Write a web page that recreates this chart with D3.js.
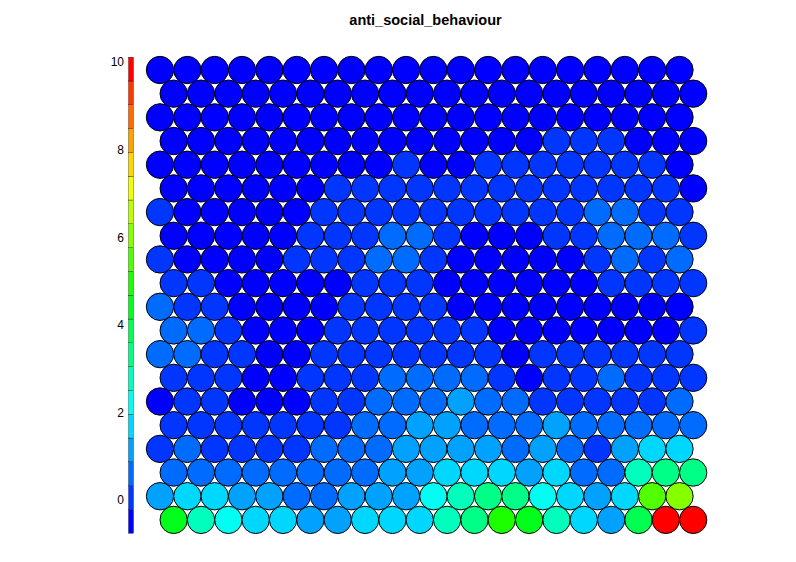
<!DOCTYPE html>
<html>
<head>
<meta charset="utf-8">
<script src="https://cdn.jsdelivr.net/npm/d3@7"></script>
<style>
  html, body { margin: 0; padding: 0; background: #fff; }
  svg { display: block; }
</style>
</head>
<body>
<svg id="chart" width="796" height="562"></svg>
<script>
// ---- data (SOM node property values, rows listed top to bottom, 20 x 20 hex grid) ----
const title = "anti_social_behaviour";
const legendTicks = [0, 2, 4, 6, 8, 10];
const nColors = 20;

const row00 = [-0.76,-0.5,-0.5,-0.5,-0.5,-0.5,-0.5,-0.5,-0.5,-0.5,-0.5,-0.5,-0.5,-0.5,-0.5,-0.5,-0.5,-0.5,-0.5,-0.5];
const row01 = [-0.5,-0.5,-0.5,-0.5,-0.5,-0.5,-0.5,-0.5,-0.5,-0.5,-0.5,-0.5,-0.5,-0.5,-0.5,-0.5,-0.5,-0.5,-0.5,-0.5];
const row02 = [-0.5,-0.5,-0.5,-0.5,-0.5,-0.5,-0.5,-0.5,-0.5,-0.5,-0.5,-0.5,-0.5,-0.5,-0.5,-0.5,-0.5,-0.5,-0.5,-0.5];
const row03 = [-0.5,-0.5,-0.5,-0.5,-0.5,-0.5,-0.5,-0.5,-0.5,-0.5,-0.5,-0.5,-0.5,-0.5,0.05,0.05,0.05,-0.5,-0.5,-0.5];
const row04 = [-0.5,-0.5,-0.5,-0.5,-0.5,-0.5,-0.5,-0.5,-0.5,0.05,-0.5,-0.5,0.05,0.05,0.05,0.05,0.05,0.05,0.05,-0.5];
const row05 = [-0.5,-0.5,-0.5,-0.5,-0.5,-0.5,0.05,0.05,0.05,0.05,0.05,0.05,0.05,0.05,0.05,0.05,0.05,0.05,0.05,-0.5];
const row06 = [0.05,-0.5,-0.5,-0.5,-0.5,-0.5,0.05,0.05,0.05,0.05,0.05,0.05,0.05,0.05,0.05,0.05,0.6,0.6,0.05,0.05];
const row07 = [-0.5,-0.5,-0.5,-0.5,-0.5,0.05,0.05,0.05,0.6,0.6,0.05,-0.5,-0.5,-0.5,0.05,0.05,0.6,0.6,0.6,0.05];
const row08 = [0.05,-0.5,-0.5,-0.5,-0.5,0.05,0.05,0.05,0.6,0.6,0.05,-0.5,-0.5,-0.5,-0.5,-0.5,0.05,0.6,0.05,0.6];
const row09 = [0.05,0.05,-0.5,-0.5,-0.5,-0.5,-0.5,0.05,0.05,0.05,-0.5,-0.5,-0.5,-0.5,-0.5,-0.5,0.05,0.05,0.05,0.05];
const row10 = [0.6,0.05,0.05,-0.5,-0.5,-0.5,-0.5,0.05,0.05,0.05,0.05,-0.5,-0.5,-0.5,-0.5,-0.5,-0.5,-0.5,-0.5,-0.5];
const row11 = [0.6,0.6,0.05,-0.5,-0.5,-0.5,0.05,0.05,0.05,0.05,0.05,0.05,-0.5,-0.5,-0.5,-0.5,-0.5,-0.5,-0.5,0.05];
const row12 = [0.6,0.6,0.05,0.05,-0.5,-0.5,0.05,0.05,0.05,0.05,0.05,0.05,0.05,-0.5,0.05,0.05,0.05,0.05,0.05,0.05];
const row13 = [0.05,0.05,0.05,-0.5,-0.5,0.05,0.05,0.05,0.6,0.6,0.6,0.6,0.05,-0.5,0.05,0.05,0.6,0.05,0.05,0.05];
const row14 = [-0.5,0.05,0.05,-0.5,-0.5,-0.5,0.05,0.05,0.6,0.6,0.6,1.15,0.6,0.6,0.05,0.05,0.05,0.05,0.05,0.6];
const row15 = [0.05,0.05,0.05,0.05,0.05,0.05,0.05,0.6,0.6,1.15,1.15,0.6,0.6,0.6,1.15,0.6,0.6,0.6,0.6,0.6];
const row16 = [0.05,0.6,0.05,0.05,0.05,0.05,0.6,0.6,0.6,1.15,1.15,1.15,1.15,0.6,1.15,0.6,0.05,1.15,1.7,1.7];
const row17 = [0.6,0.6,0.6,0.6,0.6,0.6,0.6,0.6,1.15,1.15,1.7,1.7,1.7,1.15,1.7,0.6,0.6,2.75,3.3,3.3];
const row18 = [1.15,1.7,1.7,1.15,1.15,0.6,0.6,1.15,1.15,1.15,2.2,2.75,3.3,3.3,2.2,1.7,1.15,1.7,5.5,6.0];
const row19 = [4.4,2.75,2.2,1.7,1.7,1.15,1.15,1.7,1.7,1.7,2.75,3.3,4.95,4.4,2.75,1.7,1.15,3.85,10.11,10.05];

const rows = [row00,row01,row02,row03,row04,row05,row06,row07,row08,row09,
              row10,row11,row12,row13,row14,row15,row16,row17,row18,row19];

// ---- drawing ----
const svg = d3.select("#chart");
const nRows = rows.length, nCols = rows[0].length;

const allVals = rows.flat();
const [vMin, vMax] = d3.extent(allVals);

// palette: rainbow(n, end = 4/6) reversed (blue -> red)
const palette = d3.range(nColors).map(i => d3.hsl((nColors - 1 - i) * (240 / (nColors - 1)), 1, 0.5).formatHex());
const color = d3.scaleQuantize().domain([vMin, vMax]).range(palette);

// grid geometry: hex layout, bottom row shifted right by half a cell
const x = d3.scaleLinear().domain([0, nCols - 1]).range([160, 679.5]);
const dx = x(1) - x(0);
const y = d3.scaleLinear().domain([0, nRows - 1]).range([70, 70 + (nRows - 1) * dx * Math.sqrt(3) / 2]);
const r = dx / 2;

const cells = [];
rows.forEach((row, ri) => {
  const shift = ((nRows - 1 - ri) % 2 === 0) ? 0.5 : 0;
  row.forEach((v, ci) => cells.push({ row: ri, col: ci + shift, v }));
});

svg.append("g").selectAll("circle")
  .data(cells)
  .join("circle")
  .attr("cx", d => x(d.col))
  .attr("cy", d => y(d.row))
  .attr("r", r)
  .attr("fill", d => color(d.v))
  .attr("stroke", "#000")
  .attr("stroke-width", 1);

// legend
const ly = d3.scaleLinear().domain([0, 10]).range([500, 62]);
const step = (vMax - vMin) / nColors;
const legend = svg.append("g");
legend.selectAll("rect")
  .data(palette)
  .join("rect")
  .attr("x", 128.5)
  .attr("width", 5)
  .attr("y", (c, i) => ly(vMin + (i + 1) * step))
  .attr("height", (c, i) => ly(vMin + i * step) - ly(vMin + (i + 1) * step))
  .attr("fill", c => c)
  .attr("stroke", "#000")
  .attr("stroke-width", 0.3);

const axis = d3.axisLeft(ly).tickValues(legendTicks).tickSize(0).tickPadding(3).tickFormat(d3.format("d"));
const ax = legend.append("g").attr("transform", "translate(127,0)").call(axis);
ax.select(".domain").remove();
ax.selectAll("text")
  .attr("font-family", "Liberation Sans, Arial, sans-serif")
  .attr("font-size", 12)
  .attr("fill", "#000");

// title
svg.append("text")
  .attr("x", 425.5)
  .attr("y", 25)
  .attr("text-anchor", "middle")
  .attr("font-family", "Liberation Sans, Arial, sans-serif")
  .attr("font-weight", "bold")
  .attr("font-size", 14.5)
  .text(title);
</script>
</body>
</html>
